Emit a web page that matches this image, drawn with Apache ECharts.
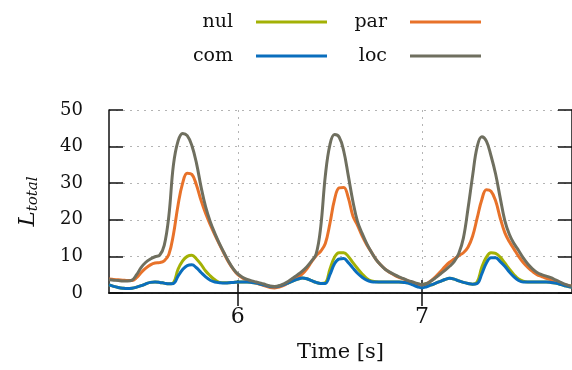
<!DOCTYPE html>
<html>
<head>
<meta charset="utf-8">
<script src="https://cdn.jsdelivr.net/npm/echarts@6/dist/echarts.min.js"></script>
<style>
  html, body { margin: 0; padding: 0; background: #fff; }
  #chart { width: 572px; height: 370px; }
</style>
</head>
<body>
<div id="chart"></div>
<script>
// time samples: start 5.3 s, one every 0.025 s
const T0 = 5.3;
const DT = 0.025;

const xTicks = [6, 7];

const nul = [
  2.2, 1.8, 1.5, 1.3, 1.2, 1.3, 1.6, 2.0, 2.5, 2.9,
  3.0, 2.9, 2.7, 2.5, 2.8, 6.5, 8.8, 10.0, 10.3, 9.3,
  7.8, 6.0, 4.7, 3.6, 2.9, 2.8, 2.8, 2.9, 3.0, 3.0,
  3.0, 2.9, 2.7, 2.4, 2.1, 1.8, 1.7, 1.9, 2.3, 2.8,
  3.3, 3.8, 4.1, 3.9, 3.4, 2.9, 2.6, 2.8, 6.5, 9.8,
  11.0, 11.0, 10.0, 8.3, 6.7, 5.2, 4.0, 3.3, 3.1, 3.0,
  3.0, 3.0, 3.0, 3.0, 2.9, 2.8, 2.8, 2.5, 2.3, 2.5,
  2.2, 2.7, 3.2, 3.7, 4.0, 3.8, 3.3, 2.9, 2.6, 2.4,
  3.0, 7.0, 9.8, 11.0, 10.8, 9.8, 8.2, 6.5, 5.0, 3.8,
  3.2, 3.0, 3.0, 3.0, 3.0, 3.0, 2.9, 2.7, 2.4, 2.0,
  1.7, 1.6
];

const par = [
  3.8, 3.7, 3.6, 3.5, 3.4, 3.4, 4.2, 5.6, 6.8, 7.7,
  8.2, 8.3, 8.8, 10.5, 16.0, 24.0, 30.0, 32.7, 32.4, 29.5,
  25.3, 21.7, 18.7, 15.9, 13.3, 10.8, 8.4, 6.5, 5.0, 4.1,
  3.5, 3.0, 2.7, 2.3, 1.9, 1.5, 1.4, 1.6, 2.1, 2.8,
  3.6, 4.3, 5.2, 6.6, 8.5, 10.2, 11.4, 13.5, 19.0, 25.5,
  28.7, 28.8, 26.0, 21.0, 18.5, 15.6, 13.2, 11.2, 9.2, 7.7,
  6.5, 5.6, 4.9, 4.3, 3.8, 3.3, 2.8, 2.3, 2.1, 2.5,
  3.4, 4.5, 5.8, 7.2, 8.4, 9.3, 10.2, 11.0, 12.5, 15.5,
  20.5, 25.5, 28.2, 27.8, 25.2, 20.5, 16.5, 14.0, 12.0, 10.0,
  8.3, 7.0, 5.9, 5.0, 4.5, 4.0, 3.6, 3.1, 2.7, 2.3,
  2.0, 1.8
];

const com = [
  2.2, 1.8, 1.5, 1.3, 1.2, 1.3, 1.6, 2.0, 2.5, 2.9,
  3.0, 2.9, 2.7, 2.5, 2.6, 4.6, 6.4, 7.5, 7.7, 6.9,
  5.6, 4.4, 3.5, 3.0, 2.8, 2.7, 2.8, 2.9, 3.0, 3.0,
  3.0, 2.9, 2.7, 2.4, 2.1, 1.8, 1.7, 1.9, 2.3, 2.8,
  3.3, 3.8, 4.1, 3.9, 3.4, 2.9, 2.6, 2.6, 5.0, 8.0,
  9.3, 9.4, 8.3, 6.8, 5.4, 4.3, 3.5, 3.1, 3.0, 3.0,
  3.0, 3.0, 3.0, 3.0, 2.9, 2.7, 2.2, 1.7, 1.4, 1.7,
  2.2, 2.7, 3.2, 3.7, 4.0, 3.8, 3.3, 2.9, 2.6, 2.4,
  2.6, 5.2, 8.2, 9.6, 9.6, 8.6, 7.3, 5.7, 4.4, 3.4,
  3.0, 3.0, 3.0, 3.0, 3.0, 3.0, 2.9, 2.7, 2.4, 2.0,
  1.7, 1.6
];

const loc = [
  3.6, 3.5, 3.4, 3.3, 3.3, 3.5, 5.0, 7.0, 8.4, 9.3,
  9.9, 10.3, 13.0, 21.0, 35.0, 41.5, 43.6, 43.0, 40.3, 35.5,
  29.0, 23.5, 19.5, 16.3, 13.5, 11.0, 8.6, 6.6, 5.2, 4.3,
  3.7, 3.3, 3.0, 2.7, 2.3, 1.9, 1.8, 2.0, 2.5, 3.2,
  4.1, 5.0, 6.0, 7.2, 8.7, 10.6, 18.0, 32.0, 40.5, 43.3,
  42.6, 38.8, 32.0, 25.0, 19.5, 16.3, 13.5, 11.2, 9.2, 7.7,
  6.5, 5.7, 5.0, 4.4, 3.9, 3.4, 3.0, 2.6, 2.3, 2.6,
  3.3, 4.2, 5.2, 6.2, 7.3, 8.6, 10.8, 15.0, 23.0, 32.0,
  40.0, 42.7, 41.5, 37.5, 32.5, 26.0, 19.8, 16.0, 13.5, 11.6,
  9.6, 7.9, 6.6, 5.6, 5.0, 4.6, 4.2, 3.6, 3.0, 2.4,
  2.0, 1.8
];

const FONT = "DejaVu Serif";
const INK = "#111";

const pairs = (vals) => vals.map((v, i) => [+(T0 + i * DT).toFixed(3), v]);

const line = (name, vals, color) => ({
  name,
  type: "line",
  data: pairs(vals),
  showSymbol: false,
  smooth: 0.4,
  lineStyle: { width: 3, color },
  itemStyle: { color },
});

const dotted = { show: true, lineStyle: { color: "#b4b4b4", width: 1, type: [2, 5] } };
const frame = { show: true, lineStyle: { color: INK, width: 1.5 } };

const legendBase = {
  orient: "vertical",
  align: "right",
  top: 12,
  padding: 0,
  itemGap: 14,
  itemWidth: 71,
  itemHeight: 3,
  icon: "rect",
  textStyle: {
    fontFamily: FONT,
    fontSize: 19,
    lineHeight: 20,
    color: INK,
    padding: [0, 18, 0, 0],
  },
};

const chart = echarts.init(document.getElementById("chart"));
chart.setOption({
  backgroundColor: "#fff",
  animation: false,
  legend: [
    { ...legendBase, right: 245, data: ["nul", "com"] },
    { ...legendBase, right: 91, data: ["par", "loc"] },
  ],
  grid: { left: 109, top: 110, width: 465, height: 183 },
  xAxis: [
    {
      type: "value",
      min: 5.3,
      max: 7.815,
      axisLine: frame,
      axisTick: { inside: true, length: 13, customValues: xTicks, lineStyle: { color: INK, width: 1.5 } },
      axisLabel: { customValues: xTicks, fontFamily: FONT, fontSize: 22, color: INK, margin: 13 },
      splitLine: dotted,
      name: "Time [s]",
      nameLocation: "middle",
      nameGap: 49,
      nameTextStyle: { fontFamily: FONT, fontSize: 21, color: INK },
    },
    {
      type: "value",
      position: "top",
      min: 5.3,
      max: 7.815,
      axisLine: frame,
      axisTick: { inside: true, length: 13, customValues: xTicks, lineStyle: { color: INK, width: 1.5 } },
      axisLabel: { show: false, customValues: xTicks },
      splitLine: { show: false },
    },
  ],
  yAxis: [
    {
      type: "value",
      min: 0,
      max: 50,
      interval: 10,
      axisLine: frame,
      axisTick: { inside: true, length: 14, lineStyle: { color: INK, width: 1.5 } },
      axisLabel: { fontFamily: FONT, fontSize: 18, color: INK, margin: 26, showMinLabel: true, showMaxLabel: true },
      splitLine: dotted,
      name: "{L|L}{s|total}",
      nameLocation: "middle",
      nameRotate: 90,
      nameGap: 68,
      nameTextStyle: {
        rich: {
          L: { fontFamily: FONT, fontStyle: "italic", fontSize: 23, color: INK },
          s: { fontFamily: FONT, fontStyle: "italic", fontSize: 15, color: INK, padding: [10, 0, 0, 0] },
        },
      },
    },
    {
      type: "value",
      position: "right",
      min: 0,
      max: 50,
      interval: 10,
      axisLine: frame,
      axisTick: { inside: true, length: 14, lineStyle: { color: INK, width: 1.5 } },
      axisLabel: { show: false },
      splitLine: { show: false },
    },
  ],
  series: [
    line("nul", nul, "#a3b105"),
    line("par", par, "#e8722a"),
    line("com", com, "#0a6ebd"),
    line("loc", loc, "#6f6f5f"),
  ],
});
</script>
</body>
</html>
